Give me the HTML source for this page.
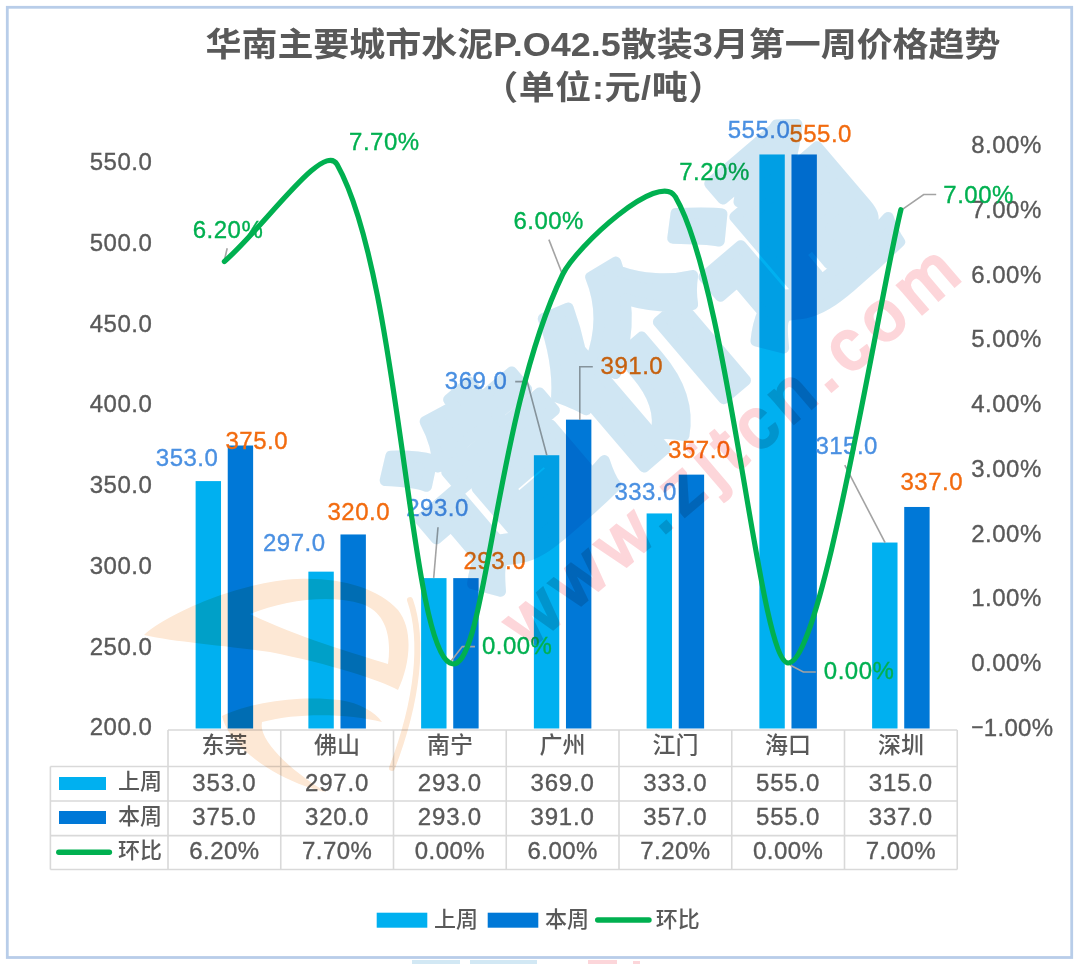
<!DOCTYPE html><html><head><meta charset="utf-8"><style>html,body{margin:0;padding:0;background:#fff;}svg{display:block;}text{font-family:"Liberation Sans","Noto Sans CJK SC",sans-serif;} .n{stroke-width:0.35px;} .ng{stroke:#595959;} .nb{stroke:#4a90e2;} .no{stroke:#f26b0f;} .ngr{stroke:#00b050;}</style></head><body>
<svg width="1080" height="964" viewBox="0 0 1080 964">
<rect x="0" y="0" width="1080" height="964" fill="#fff"/>
<rect x="7.3" y="7.3" width="1064.4" height="950.2" fill="none" stroke="#b8cde9" stroke-width="2.8"/>
<text x="0" y="0" transform="translate(603.0,56.0) scale(1,0.93)" font-size="36.0" font-weight="bold" fill="#595959" text-anchor="middle">华南主要城市水泥P.O42.5散装3月第一周价格趋势</text>
<text x="0" y="0" transform="translate(603.5,99.2) scale(1,0.93)" font-size="36.0" font-weight="bold" fill="#595959" text-anchor="middle" letter-spacing="0.6">（单位:元/吨）</text>
<text class="n ng" x="152.3" y="169.9" font-size="24" fill="#595959" text-anchor="end" letter-spacing="0.5">550.0</text>
<text class="n ng" x="152.3" y="250.7" font-size="24" fill="#595959" text-anchor="end" letter-spacing="0.5">500.0</text>
<text class="n ng" x="152.3" y="331.5" font-size="24" fill="#595959" text-anchor="end" letter-spacing="0.5">450.0</text>
<text class="n ng" x="152.3" y="412.3" font-size="24" fill="#595959" text-anchor="end" letter-spacing="0.5">400.0</text>
<text class="n ng" x="152.3" y="493.1" font-size="24" fill="#595959" text-anchor="end" letter-spacing="0.5">350.0</text>
<text class="n ng" x="152.3" y="573.9" font-size="24" fill="#595959" text-anchor="end" letter-spacing="0.5">300.0</text>
<text class="n ng" x="152.3" y="654.6" font-size="24" fill="#595959" text-anchor="end" letter-spacing="0.5">250.0</text>
<text class="n ng" x="152.3" y="735.4" font-size="24" fill="#595959" text-anchor="end" letter-spacing="0.5">200.0</text>
<text class="n ng" x="971.2" y="153.2" font-size="24" fill="#595959" letter-spacing="0.5">8.00%</text>
<text class="n ng" x="971.2" y="217.9" font-size="24" fill="#595959" letter-spacing="0.5">7.00%</text>
<text class="n ng" x="971.2" y="282.7" font-size="24" fill="#595959" letter-spacing="0.5">6.00%</text>
<text class="n ng" x="971.2" y="347.4" font-size="24" fill="#595959" letter-spacing="0.5">5.00%</text>
<text class="n ng" x="971.2" y="412.2" font-size="24" fill="#595959" letter-spacing="0.5">4.00%</text>
<text class="n ng" x="971.2" y="476.9" font-size="24" fill="#595959" letter-spacing="0.5">3.00%</text>
<text class="n ng" x="971.2" y="541.6" font-size="24" fill="#595959" letter-spacing="0.5">2.00%</text>
<text class="n ng" x="971.2" y="606.4" font-size="24" fill="#595959" letter-spacing="0.5">1.00%</text>
<text class="n ng" x="971.2" y="671.1" font-size="24" fill="#595959" letter-spacing="0.5">0.00%</text>
<text class="n ng" x="971.2" y="735.9" font-size="24" fill="#595959" letter-spacing="0.3"><tspan font-size="21" dy="-2">−</tspan><tspan dy="2">1.00%</tspan></text>
<rect x="195.62" y="481.10" width="25.40" height="247.40" fill="#00b0f0"/>
<rect x="227.73" y="445.52" width="25.40" height="282.98" fill="#0078d7"/>
<rect x="308.38" y="571.65" width="25.40" height="156.85" fill="#00b0f0"/>
<rect x="340.48" y="534.46" width="25.40" height="194.04" fill="#0078d7"/>
<rect x="421.12" y="578.12" width="25.40" height="150.38" fill="#00b0f0"/>
<rect x="453.23" y="578.12" width="25.40" height="150.38" fill="#0078d7"/>
<rect x="533.88" y="455.23" width="25.40" height="273.27" fill="#00b0f0"/>
<rect x="565.97" y="419.65" width="25.40" height="308.85" fill="#0078d7"/>
<rect x="646.62" y="513.44" width="25.40" height="215.06" fill="#00b0f0"/>
<rect x="678.72" y="474.63" width="25.40" height="253.87" fill="#0078d7"/>
<rect x="759.38" y="154.47" width="25.40" height="574.03" fill="#00b0f0"/>
<rect x="791.47" y="154.47" width="25.40" height="574.03" fill="#0078d7"/>
<rect x="872.12" y="542.54" width="25.40" height="185.96" fill="#00b0f0"/>
<rect x="904.22" y="506.97" width="25.40" height="221.53" fill="#0078d7"/>
<polyline points="227.2,248.3 223.9,262.2" fill="none" stroke="#a3a3a3" stroke-width="1.6"/>
<polyline points="438.0,527.3 433.7,577.9" fill="none" stroke="#a3a3a3" stroke-width="1.6"/>
<polyline points="475.0,646.6 462.3,646.6 450.4,662.1" fill="none" stroke="#a3a3a3" stroke-width="1.6"/>
<polyline points="548.9,239.6 561.8,272.7" fill="none" stroke="#a3a3a3" stroke-width="1.6"/>
<polyline points="515.2,381.6 527.2,381.6 546.8,455.3" fill="none" stroke="#a3a3a3" stroke-width="1.6"/>
<polyline points="592.8,366.8 579.8,366.8 579.8,420.0" fill="none" stroke="#a3a3a3" stroke-width="1.6"/>
<polyline points="815.8,672.0 803.3,672.0 790.0,665.0" fill="none" stroke="#a3a3a3" stroke-width="1.6"/>
<polyline points="936.2,194.5 923.7,194.5 901.7,209.8" fill="none" stroke="#a3a3a3" stroke-width="1.6"/>
<polyline points="844.8,465.1 885.1,542.7" fill="none" stroke="#a3a3a3" stroke-width="1.6"/>
<text class="n nb" x="155.8" y="466.2" font-size="24" fill="#4a90e2" letter-spacing="0.5">353.0</text>
<text class="n nb" x="263.0" y="551.1" font-size="24" fill="#4a90e2" letter-spacing="0.5">297.0</text>
<text class="n nb" x="406.2" y="515.8" font-size="24" fill="#4a90e2" letter-spacing="0.5">293.0</text>
<text class="n nb" x="444.8" y="389.1" font-size="24" fill="#4a90e2" letter-spacing="0.5">369.0</text>
<text class="n nb" x="614.4" y="500.0" font-size="24" fill="#4a90e2" letter-spacing="0.5">333.0</text>
<text class="n nb" x="727.7" y="137.7" font-size="24" fill="#4a90e2" letter-spacing="0.5">555.0</text>
<text class="n nb" x="815.4" y="453.5" font-size="24" fill="#4a90e2" letter-spacing="0.5">315.0</text>
<text class="n no" x="225.5" y="448.9" font-size="24" fill="#f26b0f" letter-spacing="0.5">375.0</text>
<text class="n no" x="327.5" y="520.1" font-size="24" fill="#f26b0f" letter-spacing="0.5">320.0</text>
<text class="n no" x="463.5" y="569.0" font-size="24" fill="#f26b0f" letter-spacing="0.5">293.0</text>
<text class="n no" x="600.6" y="374.0" font-size="24" fill="#f26b0f" letter-spacing="0.5">391.0</text>
<text class="n no" x="668.1" y="457.8" font-size="24" fill="#f26b0f" letter-spacing="0.5">357.0</text>
<text class="n no" x="789.4" y="141.6" font-size="24" fill="#f26b0f" letter-spacing="0.5">555.0</text>
<text class="n no" x="900.5" y="490.0" font-size="24" fill="#f26b0f" letter-spacing="0.5">337.0</text>
<text class="n ngr" x="192.7" y="238.1" font-size="24" fill="#00b050" letter-spacing="0.5">6.20%</text>
<text class="n ngr" x="349.1" y="149.7" font-size="24" fill="#00b050" letter-spacing="0.5">7.70%</text>
<text class="n ngr" x="481.9" y="653.8" font-size="24" fill="#00b050" letter-spacing="0.5">0.00%</text>
<text class="n ngr" x="513.4" y="229.1" font-size="24" fill="#00b050" letter-spacing="0.5">6.00%</text>
<text class="n ngr" x="679.2" y="179.5" font-size="24" fill="#00b050" letter-spacing="0.5">7.20%</text>
<text class="n ngr" x="823.8" y="679.2" font-size="24" fill="#00b050" letter-spacing="0.5">0.00%</text>
<text class="n ngr" x="943.3" y="202.8" font-size="24" fill="#00b050" letter-spacing="0.5">7.00%</text>
<line x1="168.0" y1="730" x2="957.2" y2="730" stroke="#d9d9d9" stroke-width="1.6"/>
<line x1="50.4" y1="766.5" x2="957.2" y2="766.5" stroke="#d9d9d9" stroke-width="1.6"/>
<line x1="50.4" y1="801.0" x2="957.2" y2="801.0" stroke="#d9d9d9" stroke-width="1.6"/>
<line x1="50.4" y1="835.6" x2="957.2" y2="835.6" stroke="#d9d9d9" stroke-width="1.6"/>
<line x1="50.4" y1="869.5" x2="957.2" y2="869.5" stroke="#d9d9d9" stroke-width="1.6"/>
<line x1="50.4" y1="766.5" x2="50.4" y2="869.5" stroke="#d9d9d9" stroke-width="1.6"/>
<line x1="168.00" y1="730" x2="168.00" y2="869.5" stroke="#d9d9d9" stroke-width="1.6"/>
<line x1="280.75" y1="730" x2="280.75" y2="869.5" stroke="#d9d9d9" stroke-width="1.6"/>
<line x1="393.50" y1="730" x2="393.50" y2="869.5" stroke="#d9d9d9" stroke-width="1.6"/>
<line x1="506.25" y1="730" x2="506.25" y2="869.5" stroke="#d9d9d9" stroke-width="1.6"/>
<line x1="619.00" y1="730" x2="619.00" y2="869.5" stroke="#d9d9d9" stroke-width="1.6"/>
<line x1="731.75" y1="730" x2="731.75" y2="869.5" stroke="#d9d9d9" stroke-width="1.6"/>
<line x1="844.50" y1="730" x2="844.50" y2="869.5" stroke="#d9d9d9" stroke-width="1.6"/>
<line x1="957.25" y1="730" x2="957.25" y2="869.5" stroke="#d9d9d9" stroke-width="1.6"/>
<text x="224.38" y="753.3" font-size="23" font-weight="500" fill="#595959" text-anchor="middle">东莞</text>
<text class="n ng" x="224.38" y="790.5" font-size="24" fill="#595959" text-anchor="middle" letter-spacing="0.8">353.0</text>
<text class="n ng" x="224.38" y="825.4" font-size="24" fill="#595959" text-anchor="middle" letter-spacing="0.8">375.0</text>
<text class="n ng" x="224.38" y="859.3" font-size="24" fill="#595959" text-anchor="middle" letter-spacing="0.4">6.20%</text>
<text x="337.12" y="753.3" font-size="23" font-weight="500" fill="#595959" text-anchor="middle">佛山</text>
<text class="n ng" x="337.12" y="790.5" font-size="24" fill="#595959" text-anchor="middle" letter-spacing="0.8">297.0</text>
<text class="n ng" x="337.12" y="825.4" font-size="24" fill="#595959" text-anchor="middle" letter-spacing="0.8">320.0</text>
<text class="n ng" x="337.12" y="859.3" font-size="24" fill="#595959" text-anchor="middle" letter-spacing="0.4">7.70%</text>
<text x="449.88" y="753.3" font-size="23" font-weight="500" fill="#595959" text-anchor="middle">南宁</text>
<text class="n ng" x="449.88" y="790.5" font-size="24" fill="#595959" text-anchor="middle" letter-spacing="0.8">293.0</text>
<text class="n ng" x="449.88" y="825.4" font-size="24" fill="#595959" text-anchor="middle" letter-spacing="0.8">293.0</text>
<text class="n ng" x="449.88" y="859.3" font-size="24" fill="#595959" text-anchor="middle" letter-spacing="0.4">0.00%</text>
<text x="562.62" y="753.3" font-size="23" font-weight="500" fill="#595959" text-anchor="middle">广州</text>
<text class="n ng" x="562.62" y="790.5" font-size="24" fill="#595959" text-anchor="middle" letter-spacing="0.8">369.0</text>
<text class="n ng" x="562.62" y="825.4" font-size="24" fill="#595959" text-anchor="middle" letter-spacing="0.8">391.0</text>
<text class="n ng" x="562.62" y="859.3" font-size="24" fill="#595959" text-anchor="middle" letter-spacing="0.4">6.00%</text>
<text x="675.38" y="753.3" font-size="23" font-weight="500" fill="#595959" text-anchor="middle">江门</text>
<text class="n ng" x="675.38" y="790.5" font-size="24" fill="#595959" text-anchor="middle" letter-spacing="0.8">333.0</text>
<text class="n ng" x="675.38" y="825.4" font-size="24" fill="#595959" text-anchor="middle" letter-spacing="0.8">357.0</text>
<text class="n ng" x="675.38" y="859.3" font-size="24" fill="#595959" text-anchor="middle" letter-spacing="0.4">7.20%</text>
<text x="788.12" y="753.3" font-size="23" font-weight="500" fill="#595959" text-anchor="middle">海口</text>
<text class="n ng" x="788.12" y="790.5" font-size="24" fill="#595959" text-anchor="middle" letter-spacing="0.8">555.0</text>
<text class="n ng" x="788.12" y="825.4" font-size="24" fill="#595959" text-anchor="middle" letter-spacing="0.8">555.0</text>
<text class="n ng" x="788.12" y="859.3" font-size="24" fill="#595959" text-anchor="middle" letter-spacing="0.4">0.00%</text>
<text x="900.88" y="753.3" font-size="23" font-weight="500" fill="#595959" text-anchor="middle">深圳</text>
<text class="n ng" x="900.88" y="790.5" font-size="24" fill="#595959" text-anchor="middle" letter-spacing="0.8">315.0</text>
<text class="n ng" x="900.88" y="825.4" font-size="24" fill="#595959" text-anchor="middle" letter-spacing="0.8">337.0</text>
<text class="n ng" x="900.88" y="859.3" font-size="24" fill="#595959" text-anchor="middle" letter-spacing="0.4">7.00%</text>
<rect x="59" y="777" width="47" height="13" fill="#00b0f0"/>
<rect x="59" y="811" width="47" height="13" fill="#0078d7"/>
<line x1="58.8" y1="852.2" x2="109.4" y2="852.2" stroke="#00b050" stroke-width="5.4" stroke-linecap="round"/>
<text x="118" y="789.0" font-size="22" font-weight="500" fill="#595959">上周</text>
<text x="118" y="823.5" font-size="22" font-weight="500" fill="#595959">本周</text>
<text x="118" y="858.0" font-size="22" font-weight="500" fill="#595959">环比</text>
<rect x="376.7" y="912.7" width="50.6" height="15" fill="#00b0f0"/>
<rect x="487.7" y="912.7" width="50.6" height="15" fill="#0078d7"/>
<line x1="597.7" y1="920" x2="649" y2="920" stroke="#00b050" stroke-width="5.4" stroke-linecap="round"/>
<text x="434.0" y="927" font-size="22" font-weight="500" fill="#595959">上周</text>
<text x="545.0" y="927" font-size="22" font-weight="500" fill="#595959">本周</text>
<text x="655.7" y="927" font-size="22" font-weight="500" fill="#595959">环比</text>
<g style="mix-blend-mode:multiply">
<text x="0" y="0" transform="translate(643.6,358.9) rotate(-40.5)" font-size="188" font-weight="900" fill="#d0e6f3" stroke="#d0e6f3" stroke-width="11" stroke-linejoin="round" text-anchor="middle" dominant-baseline="central" font-family="Noto Sans CJK SC, sans-serif">造价通</text>
<g fill="#fde8d5">
<path fill-rule="evenodd" d="M144,635 C170,612 240,582 297,579 C340,577 378,588 398,610 C414,630 410,665 398,690 C380,680 330,664 270,652 C220,645 175,642 144,635 Z M250,614 C285,600 330,594 362,604 C385,612 392,635 388,664 C350,652 300,638 250,614 Z"/>
<path d="M222,716 C250,702 300,695 340,700 C360,703 375,712 382,722 C350,714 300,712 262,722 C258,740 290,770 326,792 C290,785 250,760 235,740 C228,732 224,724 222,716 Z"/>
<path d="M410,600 C424,640 418,700 392,768" fill="none" stroke="#fde8d5" stroke-width="6" stroke-linecap="round"/>
</g>
<text x="0" y="0" transform="translate(528.0,650.0) rotate(-40.5)" font-size="70" font-weight="normal" fill="#fdd6da" stroke="#fdd6da" stroke-width="3.5" textLength="572" lengthAdjust="spacing">www.zjtcn.com</text>
</g>
<path d="M224.38,261.55 C263.84,227.56 323.60,140.34 337.12,164.43 C400.26,276.83 409.29,643.19 449.88,663.00 C485.95,680.61 492.72,419.02 562.62,274.50 C576.15,246.53 659.59,169.61 675.38,196.80 C729.50,290.04 758.81,661.32 788.12,663.00 C821.95,664.94 879.45,295.87 900.88,209.75" fill="none" stroke="#00b050" stroke-width="5.2" stroke-linecap="round" stroke-linejoin="round"/>
<g fill="#d2e8f4"><rect x="412" y="960" width="48" height="4"/><rect x="470" y="960" width="67" height="4"/></g>
<g fill="#fcd6da"><rect x="588" y="960" width="29" height="4"/><rect x="633" y="961" width="7" height="3"/></g>
</svg></body></html>
